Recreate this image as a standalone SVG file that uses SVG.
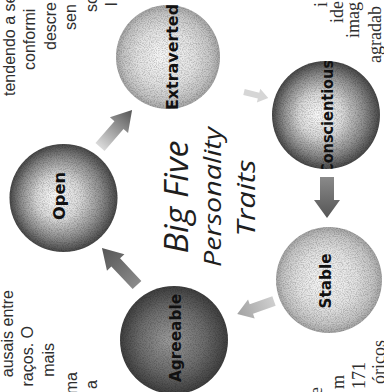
<svg xmlns="http://www.w3.org/2000/svg" width="384" height="392" viewBox="0 0 384 392">
<defs>
<style>
.pg{font-family:"Liberation Sans",Arial,sans-serif;font-size:16px;fill:#2e2e2e}
.pgs{font-family:"Liberation Serif","Times New Roman",serif;font-size:18px;fill:#2e2e2e}
.lbl{font-family:"DejaVu Sans",Verdana,sans-serif;font-weight:bold;font-size:15px;fill:#111;text-anchor:middle}
.ttl{font-family:"Open Sans","Noto Sans",sans-serif;font-style:italic;font-weight:normal;fill:#1e1e1e;text-anchor:middle}
.arrow{stroke:none}
</style>
<radialGradient id="gDark" cx="0.5" cy="0.5" r="0.5" fx="0.42" fy="0.5">
<stop offset="0" stop-color="#fbfbfb"/><stop offset="0.4" stop-color="#d9d9d9"/><stop offset="0.75" stop-color="#8c8c8c"/><stop offset="1" stop-color="#474747"/>
</radialGradient>
<radialGradient id="gAgree" cx="0.5" cy="0.5" r="0.5" fx="0.45" fy="0.5">
<stop offset="0" stop-color="#9a9a9a"/><stop offset="0.6" stop-color="#6c6c6c"/><stop offset="1" stop-color="#3e3e3e"/>
</radialGradient>
<radialGradient id="gLight" cx="0.5" cy="0.5" r="0.5" fx="0.45" fy="0.5">
<stop offset="0" stop-color="#f8f8f8"/><stop offset="0.55" stop-color="#e2e2e2"/><stop offset="0.85" stop-color="#c4c4c4"/><stop offset="1" stop-color="#a4a4a4"/>
</radialGradient>
<linearGradient id="arrDark" x1="0" y1="0" x2="1" y2="0"><stop offset="0" stop-color="#8a8a8a"/><stop offset="1" stop-color="#555"/></linearGradient>
<linearGradient id="arrFade" x1="0" y1="0" x2="1" y2="0"><stop offset="0" stop-color="#dadada"/><stop offset="1" stop-color="#555"/></linearGradient>
<linearGradient id="arrLight" x1="0" y1="0" x2="1" y2="0"><stop offset="0" stop-color="#cfcfcf"/><stop offset="1" stop-color="#a2a2a2"/></linearGradient>
<filter id="grain" x="-5%" y="-5%" width="110%" height="110%" color-interpolation-filters="sRGB">
<feTurbulence type="fractalNoise" baseFrequency="0.85" numOctaves="2" seed="7" result="noise"/>
<feColorMatrix in="noise" type="matrix" values="0 0 0 0 0  0 0 0 0 0  0 0 0 0 0  3 0 0 0 -1.2" result="dots"/>
<feComposite in="dots" in2="SourceGraphic" operator="in" result="dotsIn"/>
<feComponentTransfer in="dotsIn" result="dotsSoft"><feFuncA type="linear" slope="0.18"/></feComponentTransfer>
<feMerge><feMergeNode in="SourceGraphic"/><feMergeNode in="dotsSoft"/></feMerge>
</filter>
<clipPath id="clipCons"><circle cx="326" cy="115" r="54"/></clipPath>
</defs>
<rect width="384" height="392" fill="#fff"/>

<g id="page-text">
<text class="pg" transform="translate(14.5,96) rotate(-90)">tendendo a se</text>
<text class="pg" transform="translate(35,70) rotate(-90)">conformi</text>
<text class="pg" transform="translate(55.5,50) rotate(-90)">descre</text>
<text class="pg" transform="translate(76,30) rotate(-90)">sen</text>
<text class="pg" transform="translate(96.5,12) rotate(-90)">so</text>
<text class="pg" transform="translate(117,6) rotate(-90)">l</text>
<text class="pg" text-anchor="end" transform="translate(13,290) rotate(-90)">ausais entre</text>
<text class="pg" text-anchor="end" transform="translate(33,326) rotate(-90)">raços. O</text>
<text class="pg" text-anchor="end" transform="translate(54,343) rotate(-90)">mais</text>
<text class="pg" text-anchor="end" transform="translate(76.5,372) rotate(-90)">ma</text>
<text class="pg" text-anchor="end" transform="translate(97,380) rotate(-90)">a</text>
<text class="pgs" transform="translate(327,7) rotate(-90)">i</text>
<text class="pgs" transform="translate(343,23) rotate(-90)">ide</text>
<text class="pgs" transform="translate(359,38) rotate(-90)">imag</text>
<text class="pgs" transform="translate(381,63) rotate(-90)">agradab</text>
<text class="pgs" text-anchor="end" transform="translate(322,387) rotate(-90)">e</text>
<text class="pgs" text-anchor="end" transform="translate(344,375) rotate(-90)">m</text>
<text class="pgs" text-anchor="end" font-size="17" transform="translate(365,362) rotate(-90)">171</text>
<text class="pgs" text-anchor="end" transform="translate(385,340) rotate(-90)">óricos</text>
</g>

<g id="connectors">
<path class="arrow" fill="url(#arrDark)" transform="translate(137,285) rotate(-133.4)" d="M0,-6 L31,-6 L31,-12 L51,0 L31,12 L31,6 L0,6 Z"/>
<path class="arrow" fill="url(#arrFade)" transform="translate(100,147) rotate(-49.1)" d="M0,-6 L29,-6 L29,-12 L49,0 L29,12 L29,6 L0,6 Z"/>
<path class="arrow" fill="#d6d6d6" transform="translate(244,92) rotate(14)" d="M0,-3 L15,-3 L15,-7 L25,0 L15,7 L15,3 L0,3 Z"/>
<path class="arrow" fill="url(#arrDark)" transform="translate(327,177) rotate(90)" d="M0,-7 L23,-7 L23,-13 L41,0 L23,13 L23,7 L0,7 Z"/>
<path class="arrow" fill="url(#arrLight)" transform="translate(274,301) rotate(160.6)" d="M0,-5 L24,-5 L24,-10 L39,0 L24,10 L24,5 L0,5 Z"/>
</g>

<g id="node-extraverted">
<circle cx="168" cy="57" r="52" fill="url(#gLight)" filter="url(#grain)"/>
<text class="lbl" textLength="106" lengthAdjust="spacingAndGlyphs" transform="translate(178,57) rotate(-90)">Extraverted</text>
</g>
<g id="node-conscientious">
<circle cx="326" cy="115" r="54" fill="url(#gDark)" filter="url(#grain)"/>
<g clip-path="url(#clipCons)">
<text class="lbl" font-size="13.5" textLength="114" lengthAdjust="spacingAndGlyphs" transform="translate(333,117) rotate(-90)">Conscientious</text>
</g>
</g>
<g id="node-stable">
<circle cx="329" cy="280" r="53" fill="url(#gLight)" filter="url(#grain)"/>
<text class="lbl" textLength="55" lengthAdjust="spacingAndGlyphs" transform="translate(331,281) rotate(-90)">Stable</text>
</g>
<g id="node-agreeable">
<circle cx="174" cy="340" r="54" fill="url(#gAgree)" filter="url(#grain)"/>
<text class="lbl" fill="#1c1c1c" textLength="88" lengthAdjust="spacingAndGlyphs" transform="translate(181,338) rotate(-90)">Agreeable</text>
</g>
<g id="node-open">
<circle cx="63.5" cy="198" r="54" fill="url(#gDark)" filter="url(#grain)"/>
<text class="lbl" textLength="48" lengthAdjust="spacingAndGlyphs" transform="translate(65,196) rotate(-90)">Open</text>
</g>

<g id="title">
<text class="ttl" font-size="32" textLength="113" lengthAdjust="spacingAndGlyphs" transform="translate(188,197) rotate(-90)">Big Five</text>
<text class="ttl" font-size="24" textLength="140" lengthAdjust="spacingAndGlyphs" transform="translate(221,197) rotate(-90)">Personality</text>
<text class="ttl" font-size="25" textLength="77" lengthAdjust="spacingAndGlyphs" transform="translate(255,198) rotate(-90)">Traits</text>
</g>
</svg>
